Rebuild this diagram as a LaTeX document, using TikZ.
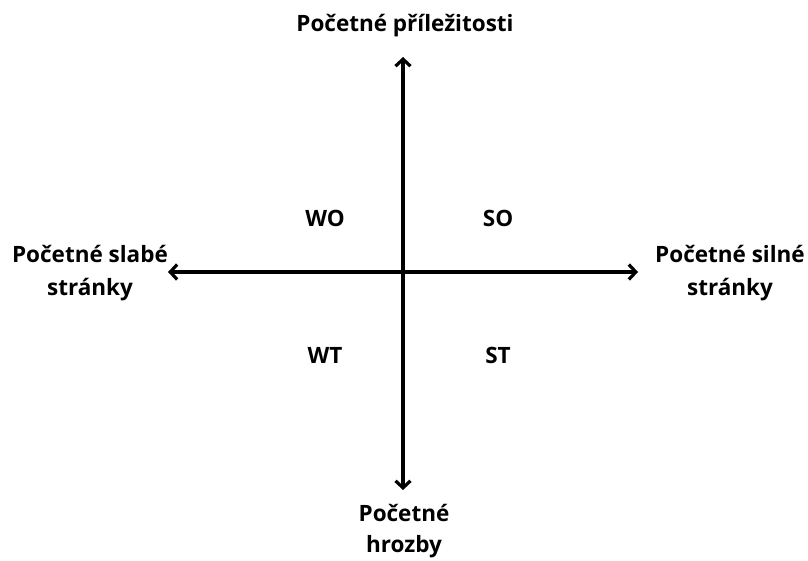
\documentclass[tikz,border=0pt]{standalone}
\usepackage{fontspec}
\setmainfont{Open Sans}
\usetikzlibrary{arrows.meta}

\begin{document}
\begin{tikzpicture}[x=1pt, y=-1pt,
		lbl/.style={font=\fontsize{22.5}{33}\selectfont\bfseries, align=center, inner sep=0pt},
		quad/.style={font=\fontsize{22.5}{27}\selectfont\bfseries, inner sep=0pt},
		axis/.style={line width=3.2pt, {Straight Barb[length=7pt, width=15pt, line width=3.2pt]}-{Straight Barb[length=7pt, width=15pt, line width=3.2pt]}}]

	\useasboundingbox (0,0) rectangle (808,561);

	% ===== osi =====
	\coordinate (c) at (403,272);
	\coordinate (tN) at (403,57);
	\coordinate (tS) at (403,490);
	\coordinate (tW) at (168,272);
	\coordinate (tE) at (638,272);
	\draw[axis] (tS) -- (tN);
	\draw[axis] (tW) -- (tE);

	% ===== popisky =====
	\node[lbl] (opp) at (405,26) {Početné příležitosti};
	\node[lbl] (weak) at (90,273) {Početné slabé\\stránky};
	\node[lbl] (str) at (730,273) {Početné silné\\stránky};
	\node[lbl, font=\fontsize{22.5}{31}\selectfont\bfseries] (thr) at (404,531) {Početné\\hrozby};

	% ===== kvadranty =====
	\node[quad] (wo) at (325,218) {WO};
	\node[quad] (so) at (498,218) {SO};
	\node[quad] (wt) at (325,355) {WT};
	\node[quad] (st) at (498,355) {ST};
\end{tikzpicture}
\end{document}
